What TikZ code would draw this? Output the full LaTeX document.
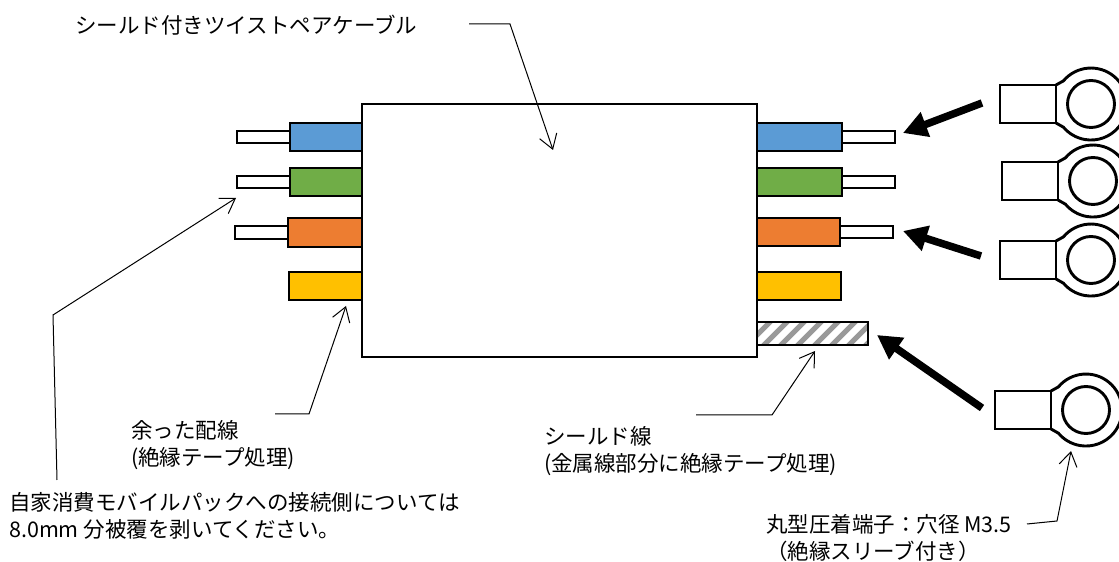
\documentclass[tikz,border=0pt]{standalone}
\usepackage{fontspec}
\setmainfont{Noto Sans CJK JP}
\usetikzlibrary{arrows.meta,patterns}
\definecolor{wireblue}{HTML}{5B9BD5}
\definecolor{wiregreen}{HTML}{70AD47}
\definecolor{wireorange}{HTML}{ED7D31}
\definecolor{wireyellow}{HTML}{FFC000}
\tikzset{
  outline/.style={draw=black,line width=2.9pt},
  callout/.style={draw=black,line width=1pt,-{Straight Barb[length=14pt,width=18pt,line width=1pt]}},
  fatarrow/.style={draw=black,line width=7.5pt,-{Triangle[length=24pt,width=25pt]}},
  label/.style={inner sep=0pt,align=left,font=\fontsize{21.5}{27}\selectfont},
}
\begin{document}
\begin{tikzpicture}[x=1pt,y=1pt]
\useasboundingbox (0,0) rectangle (1119,562);

% cable body
\draw[outline] (362,458) rectangle (757,205);

% sheaths with bare ends
\foreach \xa/\xb/\xc/\yt/\yb/\col in {237/290/362/439/411/wireblue,237/290/362/394/366/wiregreen,235/288/362/344/315/wireorange}
{
\draw[outline,fill=white] (\xa,\yt-8) rectangle (\xb,\yb+8);
\draw[outline,fill=\col] (\xb,\yt) rectangle (\xc,\yb);
}
\foreach \xa/\xb/\xc/\yt/\yb/\col in {757/842/895/439/411/wireblue,757/842/895/394/366/wiregreen,757/840/893/344/316/wireorange}
{
\draw[outline,fill=white] (\xb,\yt-8) rectangle (\xc,\yb+8);
\draw[outline,fill=\col] (\xa,\yt) rectangle (\xb,\yb);
}
\draw[outline,fill=wireyellow] (289,290) rectangle (362,262);
\draw[outline,fill=wireyellow] (757,290) rectangle (841,262);

% shield
\fill[white] (757,240) rectangle (868,217);
\begin{scope}
\clip (757,240) rectangle (868,217);
\foreach \x in {745,762,...,870}
\draw[line width=5pt,color=black!40] (\x,215) -- (\x+27,242);
\end{scope}
\draw[outline] (757,240) rectangle (868,217);

% ring terminals
\foreach \cx/\cy in {1091/458,1093/381,1091/302,1086/152}
{
\draw[outline] (\cx-91,\cy+19) rectangle (\cx-35,\cy-19);
\draw[outline] (\cx-35,\cy+19) -- (\cx-27.6,\cy+23.1) arc[start angle=140,end angle=-140,radius=36] -- (\cx-35,\cy-19);
\draw[outline] (\cx,\cy) circle (23.5);
}

% labels
\node[label,anchor=west] (cable) at (75,537) {シールド付きツイストペアケーブル};
\node[label,anchor=north west] (spare) at (131,142) {余った配線\\(絶縁テープ処理)};
\node[label,anchor=north west] (note) at (9,69.5) {自家消費モバイルパックへの接続側については\\8.0mm 分被覆を剥いてください。};
\node[label,anchor=north west] (shieldwire) at (544,136) {シールド線\\(金属線部分に絶縁テープ処理)};
\node[label,anchor=north west] (ring) at (766,47.5) {丸型圧着端子：穴径 M3.5\\（絶縁スリーブ付き）};

% arrow ends
\coordinate (cableend) at (553,412);
\coordinate (wireend) at (236,364);
\coordinate (spareend) at (346,256);
\coordinate (shieldend) at (815,211);
\coordinate (ringend) at (1071,111);

% thin leaders
\draw[callout] (57,82) -- (53,247) -- (wireend);
\draw[callout] (469,538) -- (510,538) -- (cableend);
\draw[callout] (275,148) -- (309,148) -- (spareend);
\draw[callout] (696,147) -- (772,147) -- (shieldend);
\draw[callout] (1027,38) -- (1057,41) -- (ringend);

% thick arrows
\draw[fatarrow] (982,459) -- (903,429);
\draw[fatarrow] (981,306) -- (903,331);
\draw[fatarrow] (982,154) -- (877,227);

\end{tikzpicture}
\end{document}
